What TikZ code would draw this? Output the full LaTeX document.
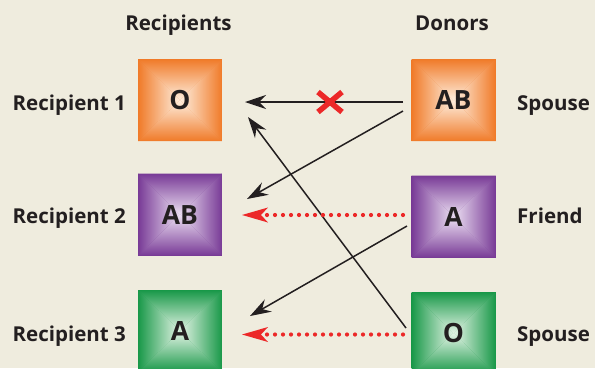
\documentclass[tikz,border=0pt]{standalone}
\usepackage{fontspec}
\setmainfont{Open Sans}
\usetikzlibrary{arrows.meta,calc}
\definecolor{bg}{RGB}{239,236,222}
\definecolor{txt}{RGB}{35,31,32}
\definecolor{orD}{RGB}{240,122,40}
\definecolor{orL}{RGB}{254,238,222}
\definecolor{puD}{RGB}{120,58,150}
\definecolor{puL}{RGB}{236,224,242}
\definecolor{grD}{RGB}{24,152,72}
\definecolor{grL}{RGB}{228,244,230}
\definecolor{rd}{RGB}{236,40,40}
\tikzset{
  pyr/.style 2 args={fill=#1, minimum width=84pt, minimum height=82pt, inner sep=0pt,
    text=txt, text depth=0pt, font=\bfseries\fontsize{26.5}{30}\selectfont,
    path picture={
      \coordinate (NW) at (path picture bounding box.north west);
      \coordinate (NE) at (path picture bounding box.north east);
      \coordinate (SW) at (path picture bounding box.south west);
      \coordinate (SE) at (path picture bounding box.south east);
      \coordinate (CC) at (path picture bounding box.center);
      \shade[top color=#1, bottom color=#2] (NW) -- (NE) -- (CC) -- cycle;
      \shade[bottom color=#1, top color=#2] (SW) -- (SE) -- (CC) -- cycle;
      \shade[left color=#1, right color=#2] (NW) -- (SW) -- (CC) -- cycle;
      \shade[right color=#1, left color=#2] (NE) -- (SE) -- (CC) -- cycle;
    }},
  lbl/.style={text=txt, font=\bfseries\fontsize{20.5}{24}\selectfont, inner sep=0pt},
  blk/.style={draw=txt, line width=1.5pt, -{Stealth[length=21pt, width=14pt, inset=7pt]}},
  reddot/.style={draw=rd, line width=4.2pt, line cap=round, dash pattern=on 0pt off 8pt,
    -{Stealth[length=26pt, width=15pt, inset=7pt, fill=rd, line width=0pt]}},
}
\begin{document}
\begin{tikzpicture}[x=1pt,y=-1pt]
\path[use as bounding box, fill=bg] (0,0) rectangle (595,368);

% boxes
\node[pyr={orD}{orL}] (r1) at (180,100) {O};
\node[pyr={puD}{puL}] (r2) at (180,214.5) {AB};
\node[pyr={grD}{grL}] (r3) at (180,331) {A};
\node[pyr={orD}{orL}] (d1) at (453.5,100) {AB};
\node[pyr={puD}{puL}] (d2) at (453.5,216.5) {A};
\node[pyr={grD}{grL}] (d3) at (453.5,333) {O};

% headers and labels
\node[lbl, anchor=base] (hr) at (178.5,30) {Recipients};
\node[lbl, anchor=base] (hd) at (452,30) {Donors};
\node[lbl, anchor=base east] (l1) at (126,110) {Recipient 1};
\node[lbl, anchor=base east] (l2) at (126,223) {Recipient 2};
\node[lbl, anchor=base east] (l3) at (126,341) {Recipient 3};
\node[lbl, anchor=base west] (s1) at (517,110) {Spouse};
\node[lbl, anchor=base west] (s2) at (517,223) {Friend};
\node[lbl, anchor=base west] (s3) at (517,341) {Spouse};

% connector end points
\coordinate (a1s) at (403,102); \coordinate (a1e) at (245,102);
\coordinate (a2s) at (403,111); \coordinate (a2e) at (247,199);
\coordinate (a3s) at (406,328); \coordinate (a3e) at (248,117);
\coordinate (a4s) at (407,226); \coordinate (a4e) at (250,316);
\coordinate (b1s) at (403,215); \coordinate (b1e) at (242,215);
\coordinate (b2s) at (403,334.5); \coordinate (b2e) at (242,334.5);

\draw[blk] (a1s) -- (a1e);
\draw[blk] (a2s) -- (a2e);
\draw[blk] (a3s) -- (a3e);
\draw[blk] (a4s) -- (a4e);
\draw[reddot] (b1s) -- (b1e);
\draw[reddot] (b2s) -- (b2e);

% red cross
\coordinate (xc) at (330,102);
\draw[rd, line width=5.5pt] ($(xc)+(-12,-10)$) -- ($(xc)+(12,10)$);
\draw[rd, line width=5.5pt] ($(xc)+(-12,10)$) -- ($(xc)+(12,-10)$);
\end{tikzpicture}
\end{document}
